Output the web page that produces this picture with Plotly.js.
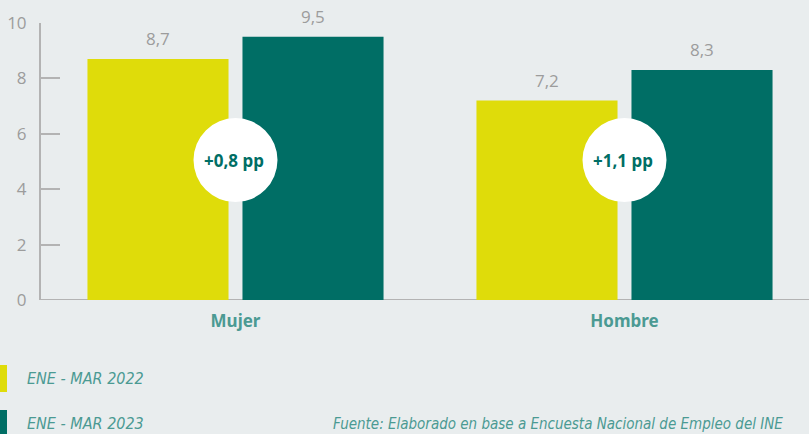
<!DOCTYPE html>
<html><head><meta charset="utf-8">
<script src="https://cdn.plot.ly/plotly-3.0.1.min.js"></script>
<style>html,body{margin:0;padding:0;background:#e9edee;}#chart{width:809px;height:434px;}</style>
</head><body><div id="chart"></div>
<script>
const categories = ['Mujer', 'Hombre'];
const series2022 = [8.7, 7.2];
const series2023 = [9.5, 8.3];
const seriesNames = ['ENE - MAR 2022', 'ENE - MAR 2023'];
const yTicks = [0, 2, 4, 6, 8, 10];
const sourceText = 'Fuente: Elaborado en base a Encuesta Nacional de Empleo del INE';

const YELLOW = '#dfdc0a', TEAL = '#006e65', BG = '#e9edee', GREY = '#9c9c9c', LABEL = '#4b9a93';
const W = 809, H = 434, L = 41, T = 23, B = 134;
const plotW = W - L, plotH = H - T - B;
const px = x => (x - L) / plotW;
const py = y => (H - B - y) / plotH;
const fmt = v => v.toFixed(1).replace('.', ',');

const traces = [
  {type:'bar', name:seriesNames[0], x:categories, y:series2022, marker:{color:YELLOW}, hoverinfo:'none', showlegend:false},
  {type:'bar', name:seriesNames[1], x:categories, y:series2023, marker:{color:TEAL}, hoverinfo:'none', showlegend:false}
];

const annotations = [];
const shapes = [];
const groupOff = 155 / 389;
categories.forEach((c, i) => {
  [[series2022, -0.5], [series2023, 0.5]].forEach(([s, o]) => {
    annotations.push({x: i + o * groupOff, y: s[i], xref:'x', yref:'y', text: fmt(s[i]), showarrow:false,
      yanchor:'bottom', yshift: 7, font:{family:'Open Sans', size:17, color:GREY}});
  });
  const diff = series2023[i] - series2022[i];
  shapes.push({type:'circle', xref:'x', yref:'y', xsizemode:'pixel', ysizemode:'pixel', xanchor:i, yanchor:5.05,
    x0:-42, x1:42, y0:-42, y1:42, fillcolor:'#ffffff', line:{width:0}, layer:'above'});
  annotations.push({x:i, y:5.05, xref:'x', yref:'y', xshift:-2, text:'<b>+' + fmt(diff) + ' pp</b>', showarrow:false,
    font:{family:'Noto Sans', size:17, color:TEAL, weight:900}});
});
shapes.push({type:'line', xref:'paper', yref:'y', x0:0, x1:1, y0:0, y1:0, line:{color:'#b3b3b3', width:2}, layer:'below'});
[[YELLOW, 365, 378, seriesNames[0]], [TEAL, 410, 423, seriesNames[1]]].forEach(([col, top, mid, name]) => {
  shapes.push({type:'rect', xref:'paper', yref:'paper', x0:px(0), x1:px(7), y0:py(top + 27), y1:py(top), fillcolor:col, line:{width:0}});
  annotations.push({xref:'paper', yref:'paper', x:px(25), y:py(mid), xanchor:'left', yanchor:'middle', showarrow:false,
    text:'<i>' + name + '</i>', font:{family:'Liberation Sans Narrow, DejaVu Sans Condensed', size:16, color:LABEL}});
});
annotations.push({xref:'paper', yref:'paper', x:px(331), y:py(435), xanchor:'left', yanchor:'bottom', showarrow:false,
  text:'<i>' + sourceText + '</i>', font:{family:'Liberation Sans Narrow, DejaVu Sans Condensed', size:15, color:LABEL}});

const layout = {
  width:W, height:H, paper_bgcolor:BG, plot_bgcolor:BG,
  margin:{l:L, r:0, t:T, b:B},
  barmode:'group', bargap:0.203, bargroupgap:0.09,
  xaxis:{type:'category', range:[-0.5, -0.5 + plotW / 389], showgrid:false, zeroline:false, showline:false,
    ticks:'', tickfont:{family:'Noto Sans', size:17, color:LABEL, weight:'bold'}, ticklabelstandoff:9, fixedrange:true},
  yaxis:{range:[0, 10], tickvals:yTicks, ticktext:yTicks.map(String), showgrid:false, zeroline:false,
    showline:true, linecolor:'#b3b3b3', linewidth:2, ticks:'inside', ticklen:19, tickwidth:2, tickcolor:'#b3b3b3',
    tickfont:{family:'Open Sans', size:17, color:GREY}, ticklabelstandoff:9, layer:'below traces', fixedrange:true},
  shapes:shapes, annotations:annotations, showlegend:false
};
Plotly.newPlot('chart', traces, layout, {displayModeBar:false, staticPlot:true});
</script></body></html>
